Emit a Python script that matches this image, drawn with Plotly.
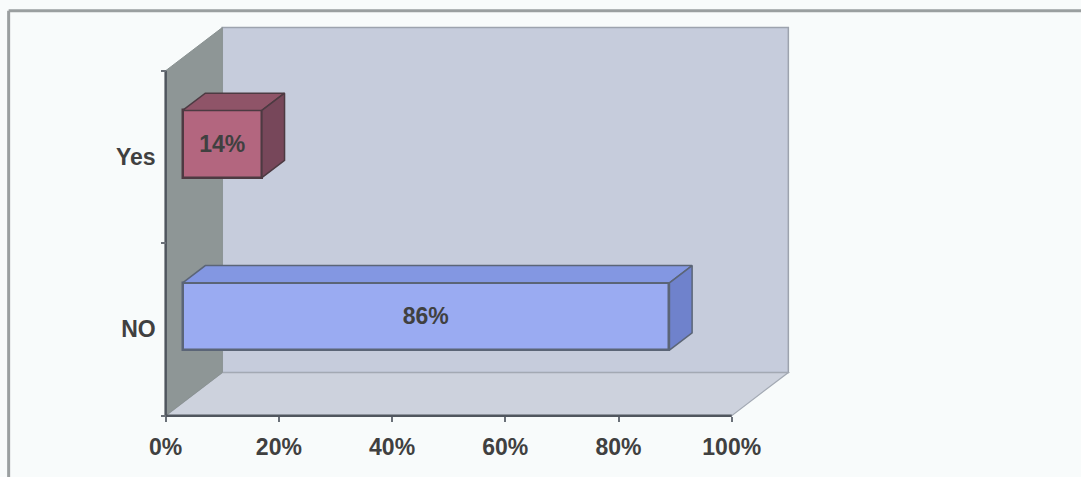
import plotly.graph_objects as go

# ---- data ----
categories = ["NO", "Yes"]
values = [86, 14]
value_labels = ["86%", "14%"]
x_tick_values = [0, 20, 40, 60, 80, 100]
x_tick_labels = ["0%", "20%", "40%", "60%", "80%", "100%"]

# ---- styling / geometry constants ----
W, H = 1081, 477
PX_X0, PX_X100 = 166.0, 732.0      # pixel of 0% and 100% on front plane
PX_YBOT, PX_YTOP = 416.0, 71.0     # pixel of front-plane bottom/top
S_X = (PX_X100 - PX_X0) / 100.0
S_Y = (PX_YBOT - PX_YTOP) / 2.0
X_LO, X_HI = -1.0, 111.0
Y_LO, Y_HI = -0.56, 1.8
DX, DY = 10.0, 0.25                # depth offset of back plane (data units)
F0, F1 = 0.3, 0.7                  # depth position of bars
HALF = 0.195                       # half bar thickness (category units)

left_px = PX_X0 + X_LO * S_X
right_px = PX_X0 + X_HI * S_X
bot_px = PX_YBOT - (Y_LO + 0.5) * S_Y
top_px = PX_YBOT - (Y_HI + 0.5) * S_Y
pw, ph = right_px - left_px, bot_px - top_px

FONT = "Liberation Sans, Arial, sans-serif"
TXT = "#404040"
BG = "#f8fbfb"
FS = 23

front_cols = ["#9aabf2", "#b3667f"]
top_cols = ["#8397e2", "#8f5468"]
side_cols = ["#6f82cc", "#77475a"]
edge_cols = ["#5b6577", "#4d3a42"]

fig = go.Figure()

ybot, ytop = -0.5, 1.5
def poly(pts):
    return "M " + " L ".join(f"{x},{y}" for x, y in pts) + " Z"

shapes = []
# back wall
shapes.append(dict(type="path", xref="x", yref="y", layer="below",
                   path=poly([(DX, ybot + DY), (100 + DX, ybot + DY), (100 + DX, ytop + DY), (DX, ytop + DY)]),
                   fillcolor="#c6ccdc", line=dict(color="#9da3ae", width=1.5)))
# floor
shapes.append(dict(type="path", xref="x", yref="y", layer="below",
                   path=poly([(0, ybot), (100, ybot), (100 + DX, ybot + DY), (DX, ybot + DY)]),
                   fillcolor="#cdd2dd", line=dict(color="#a3a9b3", width=1.2)))
# side wall
shapes.append(dict(type="path", xref="x", yref="y", layer="below",
                   path=poly([(0, ybot), (DX, ybot + DY), (DX, ytop + DY), (0, ytop)]),
                   fillcolor="#8e9696", line=dict(color="#8a9292", width=1)))

# outer frame (left and top border lines)
fx = (9 - left_px) / pw
fy_top = (bot_px - 11) / ph
fy_bot = (bot_px - 480) / ph
fx_r = (1085 - left_px) / pw
shapes.append(dict(type="line", xref="paper", yref="paper", x0=fx, x1=fx, y0=fy_bot, y1=fy_top,
                   line=dict(color="#9a9fa0", width=3)))
shapes.append(dict(type="line", xref="paper", yref="paper", x0=fx, x1=fx_r, y0=fy_top, y1=fy_top,
                   line=dict(color="#9a9fa0", width=3)))

# bar front faces
for i, (cat, v, lab) in enumerate(zip(categories, values, value_labels)):
    fig.add_trace(go.Bar(
        orientation="h", y=[i + F0 * DY], x=[v], base=[F0 * DX], width=[2 * HALF],
        marker=dict(color=front_cols[i], line=dict(color=edge_cols[i], width=2.5)),
        text=[lab], textposition="inside", insidetextanchor="middle",
        textfont=dict(family=FONT, size=FS, color=TXT, weight="bold"),
        hoverinfo="skip", showlegend=False, name=cat))

# bar top and side faces
d = F1 - F0
for i, v in enumerate(values):
    x0 = F0 * DX
    x1 = F0 * DX + v
    yb = i + F0 * DY - HALF
    yt = i + F0 * DY + HALF
    top = [(x0, yt), (x1, yt), (x1 + d * DX, yt + d * DY), (x0 + d * DX, yt + d * DY), (x0, yt)]
    side = [(x1, yb), (x1 + d * DX, yb + d * DY), (x1 + d * DX, yt + d * DY), (x1, yt), (x1, yb)]
    for pts, col in ((top, top_cols[i]), (side, side_cols[i])):
        fig.add_trace(go.Scatter(
            x=[p[0] for p in pts], y=[p[1] for p in pts], mode="lines", fill="toself",
            fillcolor=col, line=dict(color=edge_cols[i], width=1.5),
            hoverinfo="skip", showlegend=False))

# axis lines
fig.add_trace(go.Scatter(x=[0, 0], y=[ybot, ytop], mode="lines",
                         line=dict(color="#50565e", width=2.5), hoverinfo="skip", showlegend=False))
fig.add_trace(go.Scatter(x=[0, 100], y=[ybot, ybot], mode="lines",
                         line=dict(color="#50565e", width=2.5), hoverinfo="skip", showlegend=False))

fig.update_layout(
    width=W, height=H, autosize=False,
    margin=dict(l=left_px, r=W - right_px, t=top_px, b=H - bot_px, pad=0),
    paper_bgcolor=BG, plot_bgcolor=BG,
    shapes=shapes, bargap=0, showlegend=False,
    font=dict(family=FONT, color=TXT),
    xaxis=dict(range=[X_LO, X_HI], showgrid=False, zeroline=False, showline=False,
               tickvals=x_tick_values, ticktext=x_tick_labels,
               ticks="outside", ticklen=5, tickwidth=1.5, tickcolor="#6a7078",
               tickfont=dict(family=FONT, size=FS, color=TXT, weight="bold"),
               ticklabelstandoff=6,
               anchor="free", position=(bot_px - PX_YBOT) / ph, fixedrange=True),
    yaxis=dict(range=[Y_LO, Y_HI], showgrid=False, zeroline=False, showline=False,
               tickvals=[0, 1], ticktext=categories, ticks="",
               tickfont=dict(family=FONT, size=FS, color=TXT, weight="bold"),
               ticklabelstandoff=10,
               minor=dict(tickvals=[-0.5, 0.5, 1.5], ticks="outside", ticklen=5,
                          tickwidth=1.5, tickcolor="#6a7078"),
               anchor="free", position=(PX_X0 - left_px) / pw, fixedrange=True),
)

fig.write_html("out.html")
